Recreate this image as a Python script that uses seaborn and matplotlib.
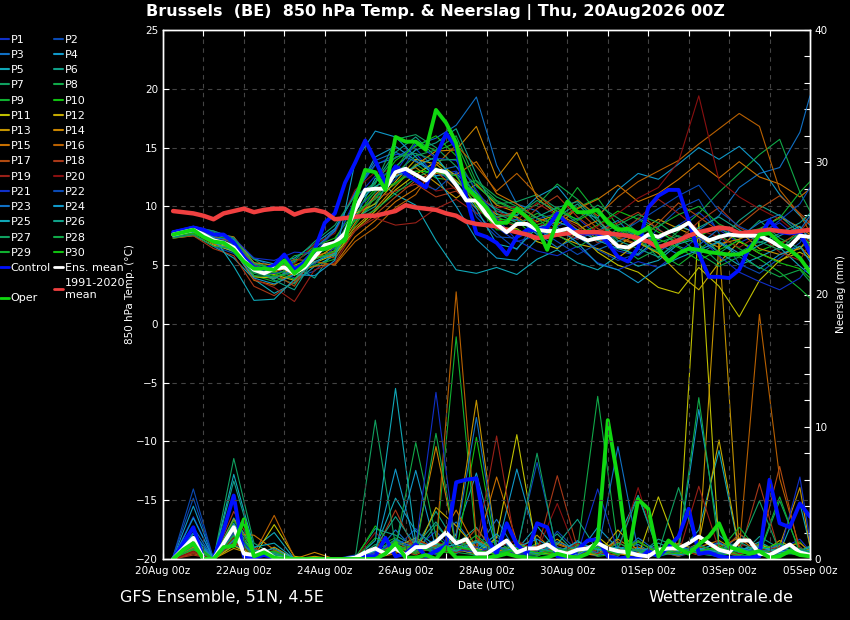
import pandas as pd
import seaborn as sns
import matplotlib
matplotlib.use('Agg')
import matplotlib.pyplot as plt
import matplotlib.dates as mdates
from matplotlib.lines import Line2D
from matplotlib.ticker import MultipleLocator

start = pd.Timestamp('2026-08-20 00:00')

# lead times in hours: 6-hourly for the main lines, 06z/18z for the members
hours6 = list(range(6, 385, 6))
hours_m = list(range(6, 379, 12)) + [384]

ens_mean_temp = [7.6, 7.8, 8.0, 7.6, 7.1, 6.9, 6.5, 5.4, 4.6, 4.3,
                 4.7, 4.8, 4.3, 4.8, 5.7, 6.7, 6.9, 7.7, 9.7, 11.4,
                 11.5, 11.5, 12.9, 13.2, 12.7, 12.2, 13.1, 12.9, 11.8, 10.5,
                 10.5, 9.3, 8.5, 7.8, 8.5, 8.5, 8.0, 7.9, 7.9, 8.1,
                 7.5, 7.1, 7.3, 7.4, 6.6, 6.5, 7.0, 7.6, 7.4, 7.8,
                 8.1, 8.6, 7.6, 7.1, 7.4, 7.6, 7.5, 7.5, 7.5, 7.1,
                 6.6, 6.6, 7.5, 7.4]
clim_temp = [9.6, 9.5, 9.4, 9.2, 8.9, 9.4, 9.6, 9.8, 9.5, 9.7,
             9.8, 9.8, 9.3, 9.6, 9.7, 9.5, 8.9, 9.0, 9.1, 9.2,
             9.2, 9.4, 9.6, 10.1, 9.9, 9.8, 9.7, 9.4, 9.2, 8.7,
             8.5, 8.4, 8.3, 8.0, 7.8, 7.6, 7.3, 7.4, 7.6, 7.7,
             7.8, 7.8, 7.8, 7.7, 7.6, 7.5, 7.3, 7.0, 6.5, 6.8,
             7.1, 7.5, 7.8, 8.0, 8.2, 8.1, 7.7, 7.8, 7.9, 8.0,
             7.9, 7.8, 7.9, 8.0]
control_temp = [7.8, 8.0, 8.2, 8.0, 7.6, 7.6, 6.9, 5.7, 4.8, 4.6,
                5.0, 5.9, 4.6, 5.2, 6.3, 8.6, 9.4, 12.0, 13.7, 15.6,
                13.9, 12.0, 13.4, 12.8, 12.2, 11.6, 14.2, 16.2, 15.0, 10.8,
                7.7, 7.4, 6.9, 5.9, 7.4, 8.0, 8.0, 8.2, 9.4, 8.5,
                7.7, 7.7, 7.7, 6.9, 5.7, 5.3, 6.5, 9.9, 10.9, 11.4,
                11.4, 8.8, 6.0, 4.0, 4.0, 3.9, 4.6, 6.5, 7.4, 8.8,
                7.8, 7.7, 7.8, 6.0]
oper_temp = [7.6, 7.8, 8.0, 7.4, 7.0, 6.9, 6.3, 5.3, 4.7, 4.7,
             4.6, 5.4, 4.3, 5.0, 6.3, 6.4, 6.7, 7.1, 10.5, 13.1,
             12.9, 11.4, 15.9, 15.5, 15.5, 14.8, 18.2, 17.1, 15.4, 11.6,
             10.8, 9.9, 8.6, 8.6, 9.8, 9.1, 8.2, 6.3, 8.8, 10.4,
             9.5, 9.5, 9.7, 8.6, 8.0, 8.1, 7.7, 8.2, 6.4, 5.3,
             6.0, 6.4, 6.3, 6.1, 6.0, 5.9, 5.9, 6.3, 7.6, 7.7,
             6.9, 6.3, 5.6, 4.4]

ens_mean_rain = [0.0, 0.8, 1.6, 0.0, 0.0, 1.2, 2.4, 0.4, 0.3, 0.7,
                 0.1, 0.0, 0.0, 0.0, 0.0, 0.0, 0.0, 0.0, 0.1, 0.5,
                 0.8, 0.4, 0.8, 0.3, 0.9, 0.9, 1.3, 2.0, 1.2, 1.5,
                 0.4, 0.4, 0.9, 1.4, 0.5, 0.8, 0.8, 1.1, 0.6, 0.4,
                 0.7, 0.8, 1.2, 0.8, 0.6, 0.5, 0.3, 0.2, 0.7, 0.8,
                 0.8, 1.2, 1.7, 1.2, 0.7, 0.5, 1.4, 1.4, 0.4, 0.3,
                 0.7, 1.1, 0.5, 0.3]
control_rain = [0.0, 1.2, 2.4, 0.0, 0.0, 2.2, 4.8, 0.2, 0.1, 0.3,
                0.1, 0.0, 0.0, 0.0, 0.0, 0.0, 0.0, 0.0, 0.1, 0.2,
                0.2, 1.6, 0.2, 0.4, 1.1, 0.2, 0.6, 1.0, 5.8, 6.0,
                6.1, 1.6, 0.4, 2.7, 1.1, 0.4, 2.7, 2.4, 0.2, 0.1,
                0.7, 1.4, 1.5, 0.2, 0.0, 0.1, 0.0, 0.6, 0.2, 0.9,
                1.7, 3.8, 0.4, 0.5, 0.2, 0.1, 0.1, 0.1, 0.2, 6.0,
                2.7, 2.4, 4.2, 3.2]
oper_rain = [0.0, 0.7, 1.2, 0.0, 0.0, 0.9, 1.0, 3.0, 0.2, 0.5,
             0.1, 0.0, 0.0, 0.0, 0.0, 0.0, 0.0, 0.0, 0.0, 0.0,
             0.0, 0.4, 1.2, 0.1, 0.1, 0.3, 0.0, 0.9, 0.1, 0.1,
             0.1, 0.1, 0.2, 0.4, 0.2, 0.1, 0.0, 0.1, 0.4, 0.2,
             0.1, 0.4, 1.4, 10.5, 6.0, 0.2, 4.5, 3.8, 0.2, 1.4,
             0.8, 0.4, 1.1, 1.7, 2.7, 0.9, 0.7, 0.4, 0.6, 0.1,
             0.2, 0.6, 0.3, 0.2]

# one row per member P1..P30
member_temp = [
    [7.5, 7.9, 7.4, 6.7, 5.1, 4.3, 4.6, 6.1, 7.9, 11.2, 13.5, 14.4, 14.5, 12.6, 13.0, 11.1, 8.2, 7.0, 7.5, 8.3, 9.0, 7.5, 6.2, 5.8, 7.1, 8.4, 9.5, 8.0, 6.9, 7.7, 8.6, 7.2, 6.5],
    [7.8, 8.1, 7.2, 7.0, 5.6, 4.8, 3.9, 4.5, 6.1, 9.2, 10.9, 12.3, 14.9, 13.1, 11.8, 9.4, 7.7, 6.3, 8.9, 9.4, 7.6, 6.3, 5.4, 6.0, 8.2, 9.8, 10.6, 7.7, 5.1, 4.3, 5.6, 6.9, 8.2],
    [7.9, 8.2, 7.5, 6.9, 5.2, 4.6, 5.3, 6.4, 8.0, 11.2, 13.6, 14.1, 15.2, 15.8, 16.9, 19.3, 13.5, 10.2, 9.6, 8.0, 7.2, 7.9, 8.8, 7.0, 6.1, 7.3, 8.0, 9.2, 11.6, 12.8, 13.3, 16.3, 19.4],
    [7.6, 7.9, 7.6, 7.2, 5.5, 5.1, 5.6, 6.8, 8.1, 11.0, 14.2, 15.1, 13.9, 12.6, 12.8, 11.1, 9.6, 9.2, 10.8, 11.7, 9.6, 9.0, 11.4, 12.8, 12.3, 13.6, 15.0, 14.0, 15.1, 13.5, 11.0, 9.2, 8.4],
    [7.4, 7.6, 6.6, 5.6, 3.8, 2.6, 3.5, 4.9, 5.8, 9.0, 12.4, 11.0, 10.1, 7.1, 4.6, 4.3, 4.8, 4.2, 5.5, 6.3, 5.2, 4.6, 5.8, 4.9, 5.4, 6.8, 7.3, 6.1, 5.0, 5.7, 6.5, 4.9, 4.2],
    [7.7, 8.0, 6.9, 6.1, 4.9, 3.8, 4.9, 3.9, 6.3, 10.0, 12.1, 14.6, 15.9, 14.2, 12.1, 10.9, 9.8, 9.0, 7.6, 9.1, 10.2, 8.5, 7.3, 9.0, 8.1, 6.6, 5.9, 7.0, 8.8, 10.1, 9.2, 7.7, 6.0],
    [7.5, 7.8, 6.9, 6.4, 4.3, 4.0, 3.4, 5.7, 7.1, 10.3, 11.9, 15.7, 16.1, 15.0, 13.4, 11.8, 10.2, 10.4, 11.0, 9.8, 8.6, 6.9, 8.1, 7.5, 5.6, 7.2, 8.0, 6.0, 7.2, 8.8, 7.3, 6.4, 7.2],
    [7.8, 8.3, 7.8, 7.1, 5.5, 4.4, 5.8, 6.1, 6.4, 8.9, 10.3, 12.8, 14.3, 14.8, 16.0, 12.1, 10.5, 9.7, 10.1, 11.9, 10.6, 9.0, 6.8, 5.5, 6.4, 7.9, 9.4, 11.2, 12.8, 14.4, 15.7, 11.2, 9.6],
    [7.6, 7.7, 7.0, 6.8, 4.1, 3.6, 4.3, 5.0, 5.5, 8.4, 10.8, 11.9, 13.6, 12.4, 12.2, 10.6, 9.1, 8.4, 9.4, 8.8, 9.9, 10.7, 8.3, 7.0, 6.1, 5.0, 6.3, 7.6, 6.4, 5.5, 4.4, 3.0, 2.2],
    [7.9, 8.1, 7.4, 7.2, 5.1, 4.7, 5.2, 6.6, 7.3, 9.6, 11.5, 13.9, 15.1, 16.0, 14.3, 11.2, 8.9, 8.8, 7.2, 8.0, 7.6, 8.4, 9.6, 8.9, 7.8, 6.9, 7.5, 8.2, 7.0, 6.2, 6.9, 7.6, 6.8],
    [7.3, 7.5, 6.7, 6.2, 4.0, 3.9, 4.6, 5.2, 5.9, 8.0, 9.6, 11.4, 12.7, 13.8, 12.6, 10.0, 8.2, 8.1, 7.0, 6.4, 7.8, 6.1, 5.0, 4.4, 3.1, 2.6, 4.8, 3.2, 0.6, 3.7, 5.4, 6.1, 5.6],
    [7.7, 8.0, 6.8, 6.5, 4.4, 4.2, 3.7, 5.5, 6.6, 9.4, 10.2, 12.1, 14.0, 13.6, 12.2, 10.6, 9.3, 9.1, 8.0, 7.5, 6.8, 6.4, 5.6, 6.9, 6.0, 4.3, 2.9, 5.2, 7.0, 6.0, 5.3, 6.6, 5.7],
    [7.4, 7.7, 7.0, 6.9, 4.9, 4.4, 5.0, 5.6, 6.0, 8.6, 11.0, 12.6, 13.3, 12.0, 10.7, 11.9, 10.1, 9.5, 8.7, 9.3, 8.5, 7.2, 6.6, 7.8, 8.9, 8.1, 7.3, 6.5, 7.9, 6.4, 5.9, 6.4, 7.5],
    [7.6, 7.9, 7.7, 7.4, 5.2, 5.0, 4.1, 5.8, 6.2, 8.2, 9.8, 11.7, 13.5, 14.7, 14.8, 16.8, 12.4, 14.6, 10.7, 9.3, 8.0, 8.8, 7.3, 6.7, 7.5, 8.3, 7.7, 6.8, 7.2, 8.0, 9.1, 8.2, 7.6],
    [7.5, 7.8, 6.8, 6.3, 3.7, 3.3, 4.4, 4.9, 5.1, 7.4, 8.8, 10.4, 11.5, 12.8, 12.7, 13.8, 11.1, 10.2, 9.0, 8.4, 9.8, 10.6, 11.8, 10.4, 11.1, 12.3, 13.7, 12.4, 13.8, 12.5, 11.9, 10.8, 11.5],
    [7.7, 8.0, 7.2, 6.7, 4.5, 4.6, 5.5, 5.3, 5.0, 7.0, 8.2, 9.9, 11.0, 13.5, 15.2, 13.4, 11.3, 12.8, 11.0, 9.5, 10.5, 9.2, 10.8, 12.1, 13.0, 13.9, 15.3, 16.6, 17.9, 16.8, 11.4, 9.3, 7.8],
    [7.8, 8.2, 7.4, 7.0, 5.0, 4.3, 3.2, 5.9, 5.6, 7.9, 9.3, 10.8, 12.2, 13.0, 11.4, 10.3, 9.0, 9.6, 8.2, 8.9, 9.7, 8.1, 7.4, 6.8, 8.6, 10.3, 9.1, 7.9, 8.4, 9.8, 10.9, 9.4, 8.6],
    [7.3, 7.5, 6.4, 5.8, 3.2, 2.4, 3.6, 5.5, 6.1, 9.1, 10.7, 11.3, 11.9, 10.8, 11.3, 9.8, 8.9, 8.3, 9.8, 10.9, 9.1, 7.8, 8.6, 9.5, 8.0, 7.1, 8.7, 9.9, 8.2, 7.3, 6.7, 7.9, 8.8],
    [7.6, 7.9, 6.9, 6.6, 3.8, 3.1, 1.9, 4.6, 5.2, 8.0, 9.0, 8.4, 8.6, 9.8, 10.6, 9.4, 9.6, 8.8, 10.3, 9.2, 8.3, 6.9, 7.8, 8.9, 10.6, 9.4, 8.0, 7.4, 6.5, 7.6, 6.1, 5.4, 6.9],
    [7.5, 7.7, 7.0, 6.9, 4.8, 4.5, 5.1, 6.8, 7.7, 11.4, 12.9, 13.1, 12.6, 11.3, 11.6, 10.8, 9.9, 9.9, 8.6, 8.0, 7.2, 8.3, 9.4, 10.7, 11.6, 13.8, 19.4, 12.2, 10.8, 9.8, 8.9, 7.5, 7.0],
    [7.9, 8.3, 7.9, 7.3, 5.6, 5.4, 6.1, 6.0, 6.8, 10.6, 12.6, 12.9, 15.4, 14.1, 13.9, 11.4, 9.0, 7.1, 6.2, 5.8, 6.6, 5.2, 4.6, 5.3, 4.8, 6.1, 7.4, 5.8, 4.4, 3.6, 2.9, 3.9, 5.0],
    [7.4, 7.6, 6.6, 6.0, 4.4, 4.3, 4.7, 5.1, 6.5, 9.7, 11.2, 13.0, 12.1, 11.4, 12.9, 9.1, 7.4, 7.3, 8.1, 7.0, 5.9, 6.8, 7.6, 8.7, 9.8, 10.9, 11.8, 9.6, 8.3, 7.5, 8.8, 10.2, 11.6],
    [7.8, 8.0, 7.3, 7.2, 4.6, 3.9, 4.6, 6.4, 7.9, 11.1, 13.9, 14.6, 13.8, 13.0, 13.4, 10.9, 8.6, 8.9, 7.7, 6.5, 7.4, 6.3, 7.0, 7.9, 6.8, 5.9, 6.7, 8.1, 7.4, 8.6, 9.3, 8.0, 9.2],
    [7.5, 7.9, 6.9, 6.2, 3.9, 3.4, 4.2, 4.1, 5.4, 13.8, 16.4, 15.9, 14.2, 12.5, 10.0, 7.2, 5.6, 5.4, 7.2, 8.2, 6.9, 5.1, 4.6, 3.5, 4.8, 5.6, 6.3, 7.0, 6.0, 4.7, 5.9, 6.6, 5.3],
    [7.7, 8.1, 7.4, 4.9, 2.0, 2.1, 3.8, 5.3, 6.0, 10.1, 11.7, 12.5, 13.4, 14.2, 12.0, 9.8, 6.8, 6.4, 8.2, 8.7, 8.0, 7.1, 6.4, 5.9, 7.3, 8.4, 7.6, 6.9, 5.8, 6.7, 7.5, 8.3, 7.1],
    [7.4, 7.8, 7.1, 6.8, 4.7, 3.7, 2.9, 5.6, 5.9, 9.0, 10.0, 13.4, 14.8, 15.4, 16.6, 12.7, 9.4, 8.6, 9.1, 9.9, 10.4, 8.8, 7.1, 6.4, 5.7, 6.9, 8.2, 9.1, 8.0, 6.9, 7.7, 8.6, 9.4],
    [7.6, 8.2, 7.9, 7.3, 5.1, 4.8, 5.4, 7.0, 8.4, 10.9, 12.0, 14.2, 14.5, 13.9, 14.0, 10.5, 9.1, 9.3, 10.5, 9.6, 8.9, 10.1, 9.0, 7.8, 6.9, 7.5, 6.8, 5.2, 6.1, 7.0, 6.3, 7.8, 6.6],
    [7.3, 7.6, 6.6, 6.4, 4.1, 4.0, 4.4, 6.3, 6.8, 8.8, 9.7, 11.1, 12.4, 13.3, 11.8, 12.2, 10.8, 10.0, 9.0, 7.6, 6.5, 7.6, 8.4, 9.3, 8.6, 7.4, 6.0, 4.9, 5.7, 4.8, 4.0, 4.6, 3.6],
    [7.8, 8.0, 7.2, 6.3, 4.4, 4.4, 3.8, 5.9, 6.6, 9.5, 10.6, 13.2, 15.6, 14.7, 15.4, 11.7, 10.4, 9.6, 8.4, 9.2, 11.6, 9.4, 8.2, 7.6, 8.3, 9.3, 10.0, 8.5, 7.7, 8.1, 9.0, 11.2, 12.1],
    [7.5, 7.7, 6.9, 6.7, 4.6, 4.1, 4.9, 5.5, 6.2, 9.0, 11.3, 12.0, 13.0, 12.9, 12.6, 10.1, 8.0, 8.0, 7.4, 9.9, 8.8, 9.7, 8.1, 6.9, 7.2, 6.5, 5.4, 6.3, 7.1, 6.0, 5.2, 4.7, 3.9],
]
member_rain = [
    [0.1, 3.2, 0, 2.6, 0.3, 0.2, 0, 0, 0, 0, 0.3, 1.4, 0.8, 2.1, 0.4, 1.2, 0.3, 0.6, 1.1, 0.2, 0.5, 0.8, 0.1, 0.4, 0.9, 0.2, 0.6, 1.3, 0.2, 0.4, 0.7, 1.5, 0.6],
    [0.2, 5.3, 0, 1.8, 0.5, 0.4, 0, 0, 0, 0, 0, 0.6, 1.2, 0.3, 0.9, 0.2, 1.7, 0.4, 0.3, 2.1, 0.6, 0.2, 0.9, 0.1, 0.3, 1.1, 0.4, 0.2, 0.8, 0.3, 1.2, 0.5, 0.2],
    [0, 2.4, 0, 1.1, 0.2, 0.6, 0, 0, 0, 0.2, 0.4, 2.2, 0.6, 1.5, 2.8, 0.7, 3.0, 0.5, 0.9, 0.3, 1.4, 0.4, 0.2, 1.6, 0.5, 0.3, 0.8, 0.2, 1.9, 0.6, 0.3, 0.9, 0.4],
    [0.1, 4.0, 0, 2.2, 0.6, 0.3, 0.1, 0, 0, 0, 0.5, 1.0, 6.7, 0.8, 1.9, 6.5, 0.6, 6.8, 1.2, 0.4, 0.3, 2.4, 0.8, 1.1, 0.2, 0.6, 11.3, 1.8, 0.5, 0.3, 1.0, 0.4, 0.8],
    [0, 1.9, 0, 3.1, 0.8, 2.0, 0, 0, 0, 0, 0.8, 4.6, 2.1, 1.0, 0.5, 1.3, 0.4, 0.7, 2.5, 0.6, 1.0, 0.3, 1.6, 4.8, 0.7, 0.4, 2.2, 8.2, 0.6, 1.3, 0.5, 4.2, 1.0],
    [0, 1.2, 0, 1.5, 0.4, 0.6, 0, 0, 0, 0.1, 2.3, 1.8, 0.9, 3.6, 1.1, 2.4, 0.2, 0.5, 0.7, 1.9, 0.3, 0.8, 0.4, 0.2, 1.5, 0.9, 0.3, 0.6, 0.2, 1.7, 0.8, 0.3, 0.5],
    [0.1, 0.9, 0, 7.6, 1.2, 0.3, 0, 0, 0, 0, 1.1, 0.7, 0.4, 2.6, 0.8, 0.6, 1.4, 0.3, 0.2, 0.9, 0.5, 1.3, 0.6, 0.4, 0.2, 1.1, 0.7, 0.3, 0.9, 0.4, 4.4, 0.6, 0.2],
    [0, 1.4, 0, 2.0, 0.2, 0.5, 0, 0, 0, 0, 0.6, 0.9, 8.8, 1.7, 0.5, 0.3, 0.8, 1.0, 0.4, 0.2, 0.7, 12.3, 0.9, 0.3, 0.6, 0.2, 0.8, 0.4, 0.3, 1.2, 0.5, 0.9, 0.3],
    [0, 0.6, 0, 1.3, 0.4, 0.2, 0, 0, 0, 0, 0.9, 1.6, 0.5, 0.8, 16.8, 1.1, 0.6, 0.3, 1.2, 0.4, 0.2, 0.8, 0.5, 1.4, 0.3, 0.7, 0.4, 0.2, 0.6, 0.9, 0.3, 0.5, 0.8],
    [0.1, 1.1, 0, 1.7, 0.3, 0.4, 0, 0, 0, 0, 2.5, 0.8, 1.3, 0.6, 0.4, 9.2, 0.5, 0.8, 0.3, 0.6, 1.1, 0.2, 0.4, 0.7, 0.3, 0.5, 1.0, 0.6, 0.2, 0.4, 0.7, 1.3, 0.4],
    [0, 0.8, 0, 1.0, 0.2, 2.6, 0.2, 0, 0, 0, 0.3, 0.6, 0.9, 1.2, 0.7, 0.4, 1.6, 9.4, 0.5, 0.3, 0.8, 1.7, 0.4, 0.2, 4.7, 0.6, 25.5, 0.8, 0.3, 1.1, 0.5, 0.9, 0.3],
    [0, 0.7, 0, 1.4, 0.1, 0.9, 0, 0, 0, 0, 0.2, 1.1, 0.4, 3.9, 2.5, 0.8, 0.3, 1.2, 0.6, 1.5, 0.4, 0.3, 2.2, 0.6, 0.9, 0.4, 1.2, 9.0, 0.7, 0.3, 1.4, 0.5, 0.6],
    [0.1, 1.0, 0, 0.8, 0.3, 0.5, 0, 0.2, 0, 0, 0.4, 0.9, 1.6, 0.7, 1.8, 12.0, 0.9, 0.6, 1.8, 0.3, 0.5, 0.9, 0.7, 0.4, 0.3, 1.2, 0.6, 24.0, 0.8, 0.5, 1.0, 5.4, 0.9],
    [0, 0.9, 0, 3.0, 0.6, 0.4, 0, 0.5, 0, 0, 0.3, 0.5, 1.1, 8.5, 0.9, 1.4, 0.7, 0.4, 0.9, 1.2, 0.6, 0.3, 1.5, 0.5, 0.8, 0.3, 0.9, 1.4, 0.5, 0.7, 0.4, 0.6, 0.3],
    [0, 0.5, 0, 1.9, 1.8, 0.7, 0, 0, 0, 0, 0.2, 1.3, 0.6, 1.0, 3.7, 0.8, 6.2, 1.3, 0.4, 0.9, 0.3, 1.0, 0.6, 0.9, 0.4, 0.7, 0.3, 0.9, 1.6, 0.4, 0.8, 1.2, 0.6],
    [0, 0.6, 0, 1.2, 0.4, 3.3, 0.1, 0, 0, 0, 0.1, 0.4, 1.4, 0.9, 20.2, 1.6, 0.5, 0.8, 0.3, 1.1, 0.6, 0.4, 1.3, 0.3, 0.6, 1.0, 0.4, 1.1, 0.7, 18.5, 6.1, 0.8, 0.4],
    [0, 0.4, 0, 2.4, 0.5, 0.6, 0, 0, 0, 0, 0.5, 0.8, 0.3, 1.1, 0.6, 2.3, 0.4, 0.6, 1.0, 0.5, 0.2, 0.7, 0.4, 1.3, 0.5, 0.3, 0.6, 0.4, 1.9, 0.9, 7.0, 0.5, 0.3],
    [0, 0.3, 0, 3.6, 0.8, 0.3, 0, 0, 0, 0, 0.6, 3.7, 0.5, 0.9, 1.3, 0.7, 0.4, 0.9, 0.6, 6.3, 0.8, 0.5, 0.3, 0.7, 0.6, 0.2, 0.9, 0.5, 0.3, 5.7, 0.4, 0.7, 0.5],
    [0, 0.5, 0, 1.6, 0.3, 0.4, 0, 0, 0, 0, 0.4, 0.6, 1.5, 0.7, 0.5, 0.9, 9.3, 0.4, 0.8, 0.3, 1.2, 0.4, 0.6, 0.3, 0.8, 0.4, 5.5, 0.7, 0.4, 0.6, 0.9, 0.3, 0.6],
    [0, 0.6, 0, 1.3, 0.4, 0.2, 0, 0, 0, 0, 2.0, 0.7, 0.4, 1.3, 0.8, 0.5, 0.9, 1.4, 0.6, 4.2, 0.3, 0.9, 0.5, 5.4, 0.4, 0.8, 0.3, 0.5, 1.1, 0.8, 0.4, 0.9, 0.4],
    [0.1, 1.3, 0, 1.9, 0.6, 0.5, 0, 0, 0, 0, 0.5, 1.2, 0.9, 12.6, 0.7, 0.5, 1.0, 0.3, 0.6, 0.9, 0.4, 5.3, 0.6, 0.3, 0.8, 0.5, 1.1, 0.4, 0.7, 0.3, 0.5, 6.2, 1.4],
    [0.2, 4.6, 0, 2.1, 0.3, 0.4, 0, 0, 0, 0.3, 0.6, 0.8, 2.3, 0.4, 1.2, 0.9, 0.5, 0.7, 7.3, 0.6, 0.3, 1.0, 0.5, 0.6, 0.9, 0.3, 0.7, 0.5, 0.9, 0.4, 0.6, 0.8, 0.5],
    [0, 2.0, 0, 1.4, 0.5, 0.3, 0, 0, 0, 0, 0.4, 1.5, 0.8, 0.6, 1.6, 10.7, 0.9, 0.6, 0.4, 1.3, 0.7, 0.5, 8.5, 0.6, 0.4, 0.9, 0.6, 0.3, 0.8, 0.5, 1.1, 0.7, 0.4],
    [0, 3.1, 0, 2.7, 0.4, 0.8, 0, 0, 0, 0, 0.6, 6.8, 0.9, 1.1, 0.6, 1.3, 0.4, 0.9, 1.5, 0.6, 0.3, 1.2, 0.4, 0.8, 0.5, 0.3, 0.7, 1.2, 0.5, 0.9, 0.6, 0.4, 0.7],
    [0, 1.6, 0, 6.4, 0.9, 1.2, 0, 0, 0, 0, 1.4, 12.9, 1.3, 0.8, 1.1, 0.6, 1.9, 0.4, 0.8, 0.5, 1.3, 0.7, 0.9, 0.4, 1.2, 0.6, 0.8, 0.5, 0.7, 1.0, 0.4, 0.6, 0.9],
    [0, 1.5, 0, 5.9, 0.7, 0.4, 0, 0, 0, 0, 0.9, 3.2, 1.0, 2.8, 0.6, 1.4, 0.5, 0.7, 0.4, 1.1, 3.0, 0.6, 0.8, 4.8, 0.5, 0.9, 0.4, 0.7, 1.3, 0.5, 0.8, 0.6, 1.0],
    [0, 0.8, 0, 2.3, 0.5, 0.3, 0, 0, 0, 0, 10.5, 1.0, 0.6, 0.9, 1.5, 0.4, 0.8, 0.5, 8.0, 0.3, 0.6, 0.9, 0.4, 0.7, 0.5, 5.4, 0.6, 0.4, 0.8, 4.4, 0.5, 0.3, 0.6],
    [0, 1.0, 0, 1.8, 0.2, 0.5, 0, 0, 0, 0, 0.7, 1.4, 0.5, 9.5, 0.9, 0.6, 0.4, 1.1, 0.7, 0.5, 0.9, 0.3, 1.2, 0.6, 0.4, 0.8, 12.2, 0.9, 0.5, 0.7, 0.3, 0.8, 0.5],
    [0.1, 0.7, 0, 2.9, 0.6, 0.2, 0, 0, 0, 0, 1.6, 0.9, 0.4, 1.2, 0.7, 1.8, 0.5, 0.6, 0.3, 0.8, 0.5, 1.1, 0.6, 0.4, 0.7, 0.5, 1.0, 0.6, 2.4, 0.5, 4.7, 0.4, 0.3],
    [0, 1.2, 0, 2.5, 0.4, 0.6, 0, 0, 0, 0, 0.8, 0.6, 1.1, 0.4, 0.9, 0.7, 0.3, 0.8, 0.5, 0.4, 0.6, 0.9, 0.3, 1.3, 0.5, 0.4, 0.6, 0.9, 0.3, 0.7, 1.2, 0.5, 0.4],
]

# 20 colours, P21-P30 reuse P1-P10
base_colors = ['#1030c8', '#0a4ab4', '#1070c4', '#1098c8', '#10a8b8',
               '#10a088', '#10a060', '#10a848', '#10b030', '#10c010',
               '#c0c000', '#c4a800', '#c49400', '#c88400', '#c87000',
               '#b86000', '#b04a10', '#a83818', '#982018', '#881010']
member_names = [f'P{n}' for n in range(1, 31)]
member_colors = {name: base_colors[i % 20] for i, name in enumerate(member_names)}

title = 'Brussels  (BE)  850 hPa Temp. & Neerslag | Thu, 20Aug2026 00Z'

# long tables for seaborn
times_m = start + pd.to_timedelta(hours_m, unit='h')
times6 = start + pd.to_timedelta(hours6, unit='h')
rows = []
for name, temps, rains in zip(member_names, member_temp, member_rain):
    for t, v, r in zip(times_m, temps, rains):
        rows.append({'time': t, 'member': name, 'temp': v, 'rain': r})
members = pd.DataFrame(rows)
main = pd.DataFrame({'time': times6, 'mean_t': ens_mean_temp, 'clim_t': clim_temp,
                     'ctrl_t': control_temp, 'oper_t': oper_temp,
                     'mean_r': ens_mean_rain, 'ctrl_r': control_rain, 'oper_r': oper_rain})

sns.set_theme(style='dark', rc={'figure.facecolor': 'black', 'axes.facecolor': 'black',
                                'text.color': 'white', 'axes.labelcolor': 'white',
                                'xtick.color': 'white', 'ytick.color': 'white',
                                'axes.edgecolor': 'white'})
plt.rcParams['font.family'] = ['DejaVu Sans']

fig = plt.figure(figsize=(8.5, 6.2), dpi=100)
ax = fig.add_axes([163 / 850, 1 - 559 / 620, 647 / 850, 529 / 620])
ax2 = ax.twinx()
ax.set_zorder(ax2.get_zorder() + 1)
ax.patch.set_visible(False)

# precipitation on the right axis
sns.lineplot(data=members, x='time', y='rain', hue='member', hue_order=member_names,
             palette=member_colors, lw=0.8, legend=False, estimator=None, ax=ax2)
sns.lineplot(data=main, x='time', y='ctrl_r', color='#0010ff', lw=2.8, ax=ax2)
sns.lineplot(data=main, x='time', y='mean_r', color='white', lw=2.8, ax=ax2)
sns.lineplot(data=main, x='time', y='oper_r', color='#10d810', lw=2.8, ax=ax2)

# temperature on the left axis
sns.lineplot(data=members, x='time', y='temp', hue='member', hue_order=member_names,
             palette=member_colors, lw=0.8, legend=False, estimator=None, ax=ax)
sns.lineplot(data=main, x='time', y='ctrl_t', color='#0010ff', lw=2.8, ax=ax)
sns.lineplot(data=main, x='time', y='clim_t', color='#f04040', lw=3.2, ax=ax)
sns.lineplot(data=main, x='time', y='mean_t', color='white', lw=2.8, ax=ax)
sns.lineplot(data=main, x='time', y='oper_t', color='#10d810', lw=2.8, ax=ax)

ax.set_xlim(start, start + pd.Timedelta(days=16))
ax.set_ylim(-20, 25)
ax2.set_ylim(0, 40)
ax.set_yticks(range(-20, 26, 5))
ax2.set_yticks(range(0, 41, 10))
ax2.yaxis.set_minor_locator(MultipleLocator(2))

ax.set_xticks(mdates.date2num(pd.date_range(start, periods=9, freq='2D')))
ax.set_xticks(mdates.date2num(pd.date_range(start, periods=17, freq='D')), minor=True)
ax.xaxis.set_major_formatter(mdates.DateFormatter('%d%b %Hz'))

ax.grid(True, axis='x', which='both', color='#444444', ls=(0, (4, 4)), lw=0.8)
ax.grid(True, axis='y', which='major', color='#444444', ls=(0, (4, 4)), lw=0.8)
ax2.grid(False)

ax.tick_params(axis='x', which='both', direction='in', top=True, bottom=True,
               length=4, width=0.8, labelsize=7.5, pad=5)
ax.tick_params(axis='y', direction='in', left=True, right=False, length=4,
               width=0.8, labelsize=7.5)
ax2.tick_params(axis='y', which='both', direction='in', right=True, length=4,
                width=0.8, labelsize=7.5)
for a in (ax, ax2):
    for s in a.spines.values():
        s.set_color('white')
        s.set_linewidth(1)

ax.set_xlabel('Date (UTC)', fontsize=7.5, labelpad=3)
ax.set_ylabel('850 hPa Temp. (°C)', fontsize=7.5, labelpad=1)
ax2.set_ylabel('Neerslag (mm)', fontsize=7.5, labelpad=6)

# legend: left column P1,P3,..,Control,blank,Oper / right column P2,P4,..,mean,climate
handles, labels = [], []
for name in member_names[0::2]:
    handles.append(Line2D([], [], color=member_colors[name], lw=1.5))
    labels.append(name)
handles += [Line2D([], [], color='#0010ff', lw=2), Line2D([], [], color='none'),
            Line2D([], [], color='#10d810', lw=2)]
labels += ['Control', ' ', 'Oper']
for name in member_names[1::2]:
    handles.append(Line2D([], [], color=member_colors[name], lw=1.5))
    labels.append(name)
handles += [Line2D([], [], color='white', lw=2), Line2D([], [], color='#f04040', lw=2)]
labels += ['Ens. mean', '1991-2020\nmean']
fig.legend(handles, labels, loc='upper left', bbox_to_anchor=(0.0, 0.944), ncol=2,
           frameon=False, fontsize=8, handlelength=0.8, handletextpad=0.15,
           columnspacing=0.3, labelspacing=0.47, borderpad=0, borderaxespad=0,
           labelcolor='white')

fig.text(0.512, 0.981, title, ha='center', va='center', fontsize=11.5,
         weight='bold', color='white')
fig.text(120 / 850, 1 - 598 / 620, 'GFS Ensemble, 51N, 4.5E', ha='left',
         va='center', fontsize=11.5, color='white')
fig.text(793 / 850, 1 - 598 / 620, 'Wetterzentrale.de', ha='right',
         va='center', fontsize=11.5, color='white')

fig.savefig('out.png', dpi=100, facecolor='black')
